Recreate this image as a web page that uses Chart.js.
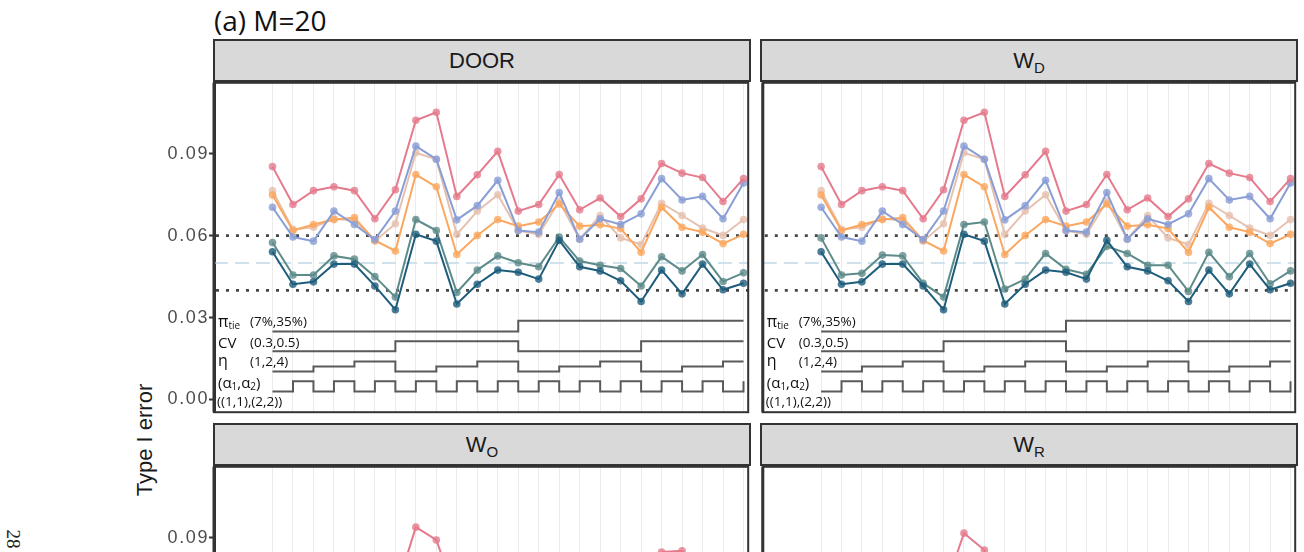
<!DOCTYPE html>
<html><head><meta charset="utf-8">
<script src="https://cdn.jsdelivr.net/npm/chart.js@4.4.1/dist/chart.umd.min.js"></script>
<style>
html,body{margin:0;padding:0;background:#fff;}
body{width:1304px;height:552px;overflow:hidden;position:relative;}
.strip{position:absolute;box-sizing:border-box;background:#d9d9d9;border:2px solid #333;display:flex;align-items:center;justify-content:center;font-family:"Liberation Sans",Arial,sans-serif;font-size:22px;color:#1a1a1a;}
.strip span{display:inline-block;line-height:26px;}
.strip sub{font-size:15px;vertical-align:-5px;line-height:0;}
.cw{position:absolute;}
.title{position:absolute;left:214px;top:3px;font-family:"Open Sans",sans-serif;font-size:28px;line-height:34px;color:#111;white-space:nowrap;}
.ylab{position:absolute;left:145px;top:440px;transform:translate(-50%,-50%) rotate(-90deg);font-family:"Liberation Sans",Arial,sans-serif;font-size:22px;color:#1a1a1a;white-space:nowrap;}
.pg{position:absolute;left:13px;top:539px;transform:translate(-50%,-50%) rotate(90deg);font-family:"Liberation Serif",serif;font-size:19px;color:#222;}
</style></head><body>
<div class="title">(a) M=20</div>
<div class="ylab">Type I error</div>
<div class="pg">28</div>

<div class="strip" style="left:213px;top:39px;width:538px;height:43px;"><span>DOOR</span></div>
<div class="strip" style="left:760px;top:39px;width:538px;height:43px;"><span>W<sub>D</sub></span></div>
<div class="strip" style="left:213px;top:423px;width:538px;height:43px;"><span>W<sub>O</sub></span></div>
<div class="strip" style="left:760px;top:423px;width:538px;height:43px;"><span>W<sub>R</sub></span></div>

<div class="cw" style="left:140px;top:79px;width:612px;height:337px;"><canvas id="cTL" width="612" height="337"></canvas></div>
<div class="cw" style="left:759px;top:79px;width:540px;height:337px;"><canvas id="cTR" width="540" height="337"></canvas></div>
<div class="cw" style="left:140px;top:463px;width:612px;height:337px;"><canvas id="cBL" width="612" height="337"></canvas></div>
<div class="cw" style="left:759px;top:463px;width:540px;height:337px;"><canvas id="cBR" width="540" height="337"></canvas></div>

<script>
// ---------------- data ----------------
const scenarios = [1,2,3,4,5,6,7,8,9,10,11,12,13,14,15,16,17,18,19,20,21,22,23,24];
const yTicks = [0.00, 0.03, 0.06, 0.09];
const nominal = 0.05;
const bounds = [0.04, 0.06];

// factor design of the scenarios
const piTie = ['7%','7%','7%','7%','7%','7%','7%','7%','7%','7%','7%','7%','35%','35%','35%','35%','35%','35%','35%','35%','35%','35%','35%','35%'];
const cvLev = [0.3,0.3,0.3,0.3,0.3,0.3,0.5,0.5,0.5,0.5,0.5,0.5,0.3,0.3,0.3,0.3,0.3,0.3,0.5,0.5,0.5,0.5,0.5,0.5];
const etaLev = [1,1,2,2,4,4,1,1,2,2,4,4,1,1,2,2,4,4,1,1,2,2,4,4];
const alphaLev = ['(1,1)','(2,2)','(1,1)','(2,2)','(1,1)','(2,2)','(1,1)','(2,2)','(1,1)','(2,2)','(1,1)','(2,2)','(1,1)','(2,2)','(1,1)','(2,2)','(1,1)','(2,2)','(1,1)','(2,2)','(1,1)','(2,2)','(1,1)','(2,2)'];

// DOOR panel
const doorPink   = [0.0853,0.0714,0.0765,0.0779,0.0765,0.0662,0.0768,0.1023,0.1052,0.0744,0.0823,0.0909,0.0690,0.0714,0.0824,0.0695,0.0738,0.0670,0.0735,0.0864,0.0829,0.0813,0.0725,0.0809];
const doorBlue   = [0.0704,0.0595,0.0580,0.0690,0.0641,0.0586,0.0690,0.0928,0.0880,0.0658,0.0710,0.0803,0.0619,0.0613,0.0758,0.0587,0.0662,0.0641,0.0680,0.0809,0.0731,0.0744,0.0662,0.0793];
const doorPeach  = [0.0765,0.0623,0.0631,0.0662,0.0656,0.0580,0.0644,0.0904,0.0880,0.0605,0.0690,0.0750,0.0619,0.0605,0.0726,0.0587,0.0674,0.0592,0.0568,0.0719,0.0674,0.0628,0.0601,0.0659];
const doorOrange = [0.0749,0.0619,0.0641,0.0659,0.0666,0.0583,0.0544,0.0824,0.0779,0.0531,0.0601,0.0659,0.0635,0.0650,0.0716,0.0635,0.0640,0.0626,0.0539,0.0704,0.0631,0.0613,0.0571,0.0605];
const doorTeal   = [0.0575,0.0456,0.0456,0.0526,0.0514,0.0450,0.0375,0.0659,0.0619,0.0392,0.0474,0.0526,0.0501,0.0486,0.0595,0.0507,0.0492,0.0480,0.0416,0.0523,0.0471,0.0531,0.0432,0.0464];
const doorDark   = [0.0541,0.0422,0.0431,0.0496,0.0496,0.0416,0.0329,0.0605,0.0580,0.0350,0.0422,0.0474,0.0466,0.0441,0.0583,0.0486,0.0471,0.0435,0.0359,0.0474,0.0387,0.0496,0.0402,0.0426];
// W_D panel (only the teal series differs visibly)
const wdPink   = doorPink;
const wdBlue   = doorBlue;
const wdPeach  = doorPeach;
const wdOrange = doorOrange;
const wdTeal   = [0.0592,0.0456,0.0462,0.0529,0.0526,0.0426,0.0375,0.0641,0.0650,0.0405,0.0441,0.0535,0.0477,0.0459,0.0561,0.0535,0.0492,0.0492,0.0396,0.0539,0.0450,0.0535,0.0424,0.0471];
const wdDark   = doorDark;
// W_O, W_R panels (only the top of the pink series is visible)
const woPink = [0.078,0.066,0.070,0.071,0.070,0.061,0.070,0.0939,0.0892,0.068,0.075,0.082,0.064,0.066,0.076,0.064,0.068,0.062,0.068,0.0848,0.0852,0.078,0.070,0.078];
const wrPink = [0.077,0.065,0.069,0.070,0.069,0.060,0.070,0.0917,0.0855,0.066,0.074,0.081,0.062,0.065,0.074,0.063,0.067,0.061,0.066,0.080,0.078,0.076,0.068,0.075];

// ---------------- styles ----------------
const COL = {pink:'#E57A8C', blue:'#8A9ED6', peach:'#E6C1AF', orange:'#FBA75F', teal:'#5C8B89', dark:'#1E5C7C'};
const STEP_COLOR = '#5a5a5a';
// band positions (in y units) for the design step lines
const stepRows = [
  {values: piTie,    levels: ['7%','35%'],       pos: [0.0249, 0.0288]},
  {values: cvLev,    levels: [0.3, 0.5],         pos: [0.0177, 0.0213]},
  {values: etaLev,   levels: [1, 2, 4],          pos: [0.0103, 0.0121, 0.0139]},
  {values: alphaLev, levels: ['(1,1)','(2,2)'],  pos: [0.0029, 0.0067]}
];
const X_MIN = -2.857, X_MAX = 23.229, Y_MIN = -0.00465, Y_MAX = 0.1160;

function alpha(hex, a){
  const n = parseInt(hex.slice(1),16);
  return `rgba(${n>>16&255},${n>>8&255},${n&255},${a})`;
}
function seriesDS(vals, color){
  return {
    data: vals.map((v,i)=>({x:i, y:v})),
    borderColor: color, borderWidth: 2,
    pointRadius: 3.8, pointBackgroundColor: alpha(color,0.8), pointBorderWidth: 0,
    pointHoverRadius: 3.8, tension: 0, fill: false
  };
}
function stepDS(row){
  return {
    data: row.values.map((v,i)=>({x:i, y: row.pos[row.levels.indexOf(v)]})),
    borderColor: STEP_COLOR, borderWidth: 2, pointRadius: 0, stepped: 'before', fill:false
  };
}

function drawRich(ctx, x, y, parts){
  for (const p of parts){
    const size = p.sub ? 10 : (p.size || 13.5);
    ctx.font = `${size}px "Open Sans", "Noto Sans", sans-serif`;
    ctx.fillText(p.t, x, p.sub ? y + 3.5 : y);
    x += ctx.measureText(p.t).width;
  }
}

const panelDeco = {
  id: 'panelDeco',
  beforeDraw(chart){ chart.ctx.letterSpacing = '1.6px'; },
  beforeDatasetsDraw(chart){
    const {ctx, chartArea:a, scales:{y}} = chart;
    ctx.letterSpacing = '0px';
    ctx.save();
    ctx.beginPath(); ctx.rect(a.left, a.top, a.right-a.left, a.bottom-a.top); ctx.clip();
    ctx.setLineDash([14,7]); ctx.strokeStyle = '#cfe2ec'; ctx.lineWidth = 2;
    let py = y.getPixelForValue(nominal);
    ctx.beginPath(); ctx.moveTo(a.left, py); ctx.lineTo(a.right, py); ctx.stroke();
    ctx.setLineDash([3,7]); ctx.strokeStyle = '#474747'; ctx.lineWidth = 2.8;
    for (const b of bounds){
      py = y.getPixelForValue(b);
      ctx.beginPath(); ctx.moveTo(a.left+2, py); ctx.lineTo(a.right, py); ctx.stroke();
    }
    ctx.restore();
  },
  afterDatasetsDraw(chart){
    const {ctx, chartArea:a, scales:{y}} = chart;
    ctx.save();
    ctx.letterSpacing = '0px';
    ctx.fillStyle = '#111'; ctx.textBaseline = 'middle'; ctx.textAlign = 'left';
    const x1 = a.left + 4, x2 = a.left + 36;
    drawRich(ctx, x1, y.getPixelForValue(0.0283), [{t:'π', size:16},{t:'tie', sub:true}]);
    drawRich(ctx, x2, y.getPixelForValue(0.0283), [{t:'(7%,35%)'}]);
    drawRich(ctx, x1, y.getPixelForValue(0.0206), [{t:'CV', size:15}]);
    drawRich(ctx, x2, y.getPixelForValue(0.0206), [{t:'(0.3,0.5)'}]);
    drawRich(ctx, x1, y.getPixelForValue(0.0138), [{t:'η', size:16}]);
    drawRich(ctx, x2, y.getPixelForValue(0.0138), [{t:'(1,2,4)'}]);
    drawRich(ctx, x1, y.getPixelForValue(0.0057), [{t:'(α', size:15},{t:'1', sub:true},{t:',α', size:15},{t:'2', sub:true},{t:')', size:15}]);
    drawRich(ctx, x1-1, y.getPixelForValue(-0.0009), [{t:'((1,1),(2,2))'}]);
    ctx.restore();
  },
  afterDraw(chart){
    const {ctx, chartArea:a} = chart;
    ctx.save();
    ctx.strokeStyle = '#333'; ctx.lineWidth = 2; ctx.setLineDash([]);
    ctx.strokeRect(a.left, a.top, a.right-a.left, a.bottom-a.top);
    ctx.lineWidth = 3;
    ctx.beginPath(); ctx.moveTo(a.left, a.top); ctx.lineTo(a.left, a.bottom); ctx.stroke();
    ctx.restore();
  }
};

function makeChart(id, series, showY){
  const datasets = series.map(s => seriesDS(s[0], s[1])).concat(stepRows.map(stepDS));
  return new Chart(document.getElementById(id), {
    type: 'line',
    data: { datasets },
    plugins: [panelDeco],
    options: {
      responsive: false, animation: false, events: [],
      layout: { padding: { left: showY ? 0 : 2, right: 2, top: 2, bottom: 2.5 } },
      plugins: { legend: {display:false}, tooltip: {enabled:false} },
      scales: {
        x: {
          type: 'linear', min: X_MIN, max: X_MAX,
          afterBuildTicks: s => { s.ticks = scenarios.map((_, i) => ({value: i})); },
          afterFit: s => { s.height = 0; s.paddingLeft = 0; s.paddingRight = 0; },
          ticks: { display: false },
          grid: { color: '#ebebeb', lineWidth: 1, drawTicks: false },
          border: { display: false }
        },
        y: {
          type: 'linear', min: Y_MIN, max: Y_MAX, display: showY,
          afterBuildTicks: s => { s.ticks = yTicks.map(v => ({value: v})); },
          afterFit: s => { s.width = showY ? 74 : 0; s.paddingTop = 0; s.paddingBottom = 0; },
          ticks: {
            callback: v => v.toFixed(2), color: '#4d4d4d', padding: 0,
            font: { family: '"Liberation Sans", Arial, sans-serif', size: 18 }
          },
          grid: { drawOnChartArea: false, drawTicks: true, tickLength: 5, tickColor: '#333', tickWidth: 2 },
          border: { display: true, color: '#333', width: 3 }
        }
      }
    }
  });
}

makeChart('cTL', [[doorDark,COL.dark],[doorTeal,COL.teal],[doorPink,COL.pink],[doorBlue,COL.blue],[doorOrange,COL.orange],[doorPeach,COL.peach]], true);
makeChart('cTR', [[wdDark,COL.dark],[wdTeal,COL.teal],[wdPink,COL.pink],[wdBlue,COL.blue],[wdOrange,COL.orange],[wdPeach,COL.peach]], false);
makeChart('cBL', [[woPink,COL.pink]], true);
makeChart('cBR', [[wrPink,COL.pink]], false);
</script>
</body></html>
